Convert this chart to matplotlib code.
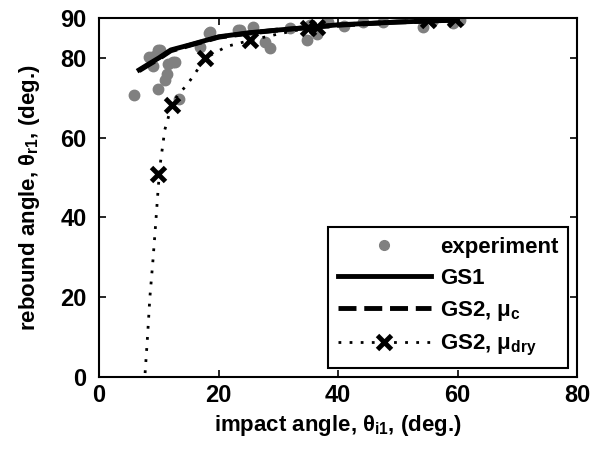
import numpy as np
import matplotlib.pyplot as plt
from matplotlib.lines import Line2D

plt.rcParams['font.family'] = 'Liberation Sans'
plt.rcParams['font.weight'] = 'bold'
plt.rcParams['axes.labelweight'] = 'bold'
plt.rcParams['mathtext.fontset'] = 'custom'
plt.rcParams['mathtext.rm'] = 'Liberation Sans:bold'
plt.rcParams['mathtext.it'] = 'Liberation Sans:bold'
plt.rcParams['mathtext.bf'] = 'Liberation Sans:bold'

# experiment (impact angle, rebound angle)
exp_x = [5.9, 8.3, 8.8, 9.1, 9.7, 9.9, 10.2, 9.9, 11.0, 11.3, 11.6, 12.4, 12.7, 13.3,
         16.9, 18.4, 18.6, 23.3, 23.6, 25.8, 27.8, 28.6, 32.0, 34.8, 35.3, 38.4,
         36.5, 41.0, 44.2, 47.5, 54.3, 55.9, 59.3, 60.4]
exp_y = [70.6, 80.2, 80.2, 78.0, 81.0, 81.9, 81.9, 72.3, 74.5, 75.9, 78.5, 78.9, 78.9, 69.6,
         82.7, 86.3, 86.5, 86.9, 86.9, 87.8, 84.0, 82.5, 87.4, 84.4, 88.2, 89.0,
         86.0, 88.0, 89.0, 89.0, 87.8, 89.5, 88.7, 89.5]

# GS1 model
gs1_x = [6.7, 8.0, 10.0, 12.0, 15.0, 20.0, 25.0, 30.0, 40.0, 50.0, 60.0]
gs1_y = [77.0, 78.2, 80.0, 82.0, 83.2, 85.3, 86.3, 87.0, 88.3, 89.0, 89.5]

# GS2, mu_c (lies under GS1)
gs2c_x = [6.7, 8.0, 10.0, 12.0, 15.0, 20.0, 25.0, 30.0, 40.0, 50.0, 60.0]
gs2c_y = [76.8, 78.0, 79.8, 81.8, 83.1, 85.2, 86.2, 87.0, 88.2, 89.0, 89.5]

# GS2, mu_dry
gs2d_x = [7.7, 8.1, 8.5, 9.0, 9.4, 9.9, 10.2, 11.0, 12.2, 13.3, 14.4, 15.6, 17.8,
          21.4, 25.3, 30.0, 35.0, 40.0, 47.0, 55.0, 60.0]
gs2d_y = [1.0, 10.0, 20.0, 29.0, 37.0, 47.5, 53.0, 62.0, 68.3, 71.0, 72.7, 75.1, 80.0,
          82.9, 84.4, 86.0, 87.5, 88.3, 89.0, 89.5, 89.7]
gs2d_mx = [9.9, 12.2, 17.8, 25.3, 35.0, 36.5, 55.0, 59.5]
gs2d_my = [51.0, 68.3, 80.0, 84.4, 87.5, 87.7, 89.5, 89.7]

fig = plt.figure(figsize=(6.08, 4.51), dpi=100)
ax = fig.add_axes([0.163, 0.164, 0.786, 0.796])

ax.plot(exp_x, exp_y, 'o', color='#808080', ms=7.5, mec='#808080')
ax.plot(gs1_x, gs1_y, '-', color='black', lw=3.5)
ax.plot(gs2c_x, gs2c_y, '--', color='black', lw=3.5)
ax.plot(gs2d_x, gs2d_y, color='black', lw=2, linestyle=(0, (1, 3)))
ax.plot(gs2d_mx, gs2d_my, 'x', color='black', ms=10, mew=3.5)

ax.set_xlim(0, 80)
ax.set_ylim(0, 90)
ax.set_xticks([0, 20, 40, 60, 80])
ax.set_yticks([0, 20, 40, 60, 80, 90])
ax.tick_params(direction='in', top=True, right=True, length=5, width=1.2,
               labelsize=17)
ax.tick_params(axis='x', pad=5)
ax.tick_params(axis='y', pad=9)
for s in ax.spines.values():
    s.set_linewidth(1.5)

ax.set_xlabel(r'impact angle, $\theta_{i1}$, (deg.)', fontsize=16, labelpad=4)
ax.set_ylabel(r'rebound angle, $\theta_{r1}$, (deg.)', fontsize=16, labelpad=13)

handles = [
    Line2D([], [], marker='o', ls='none', color='#808080', ms=7),
    Line2D([], [], color='black', lw=3.5),
    Line2D([], [], color='black', lw=3.5, ls='--'),
    Line2D([], [], color='black', lw=2, ls=(0, (1, 3)), marker='x', ms=10, mew=3.5),
]
labels = ['experiment', 'GS1', r'GS2, $\mu_c$', r'GS2, $\mu_{dry}$']
leg = ax.legend(handles, labels, loc='lower right', fontsize=16, handlelength=4.2,
                fancybox=False, framealpha=1, edgecolor='black',
                borderaxespad=0.4, labelspacing=0.45, handletextpad=0.4,
                borderpad=0.45)
leg.get_frame().set_linewidth(1.5)

fig.savefig('out.png', dpi=100)
